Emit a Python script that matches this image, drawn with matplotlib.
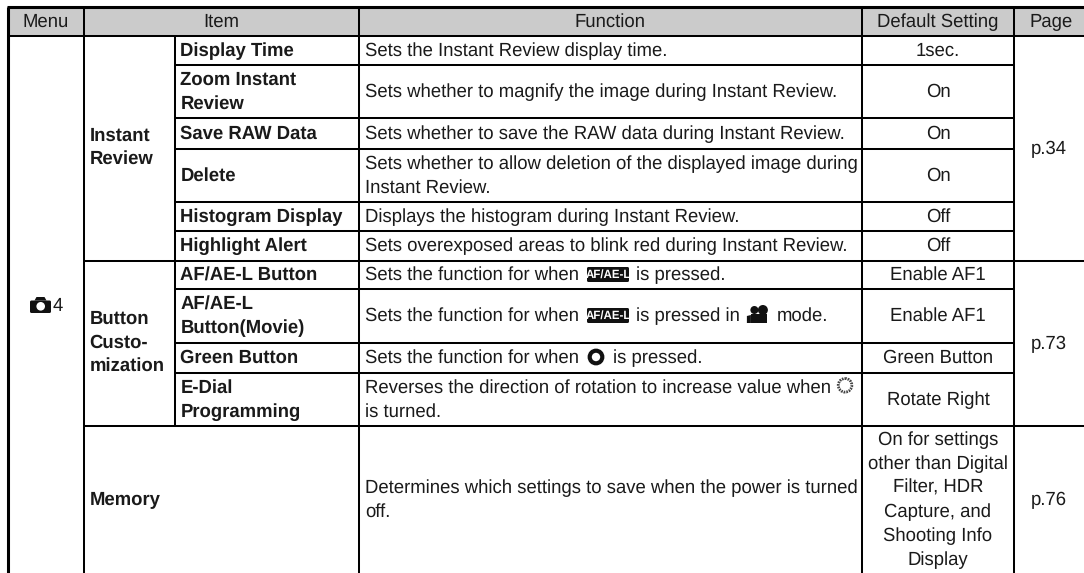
import matplotlib
matplotlib.use('Agg')
import matplotlib.pyplot as plt
from matplotlib.patches import Rectangle, Circle, FancyBboxPatch, Polygon

plt.rcParams['font.family'] = ['Liberation Sans', 'DejaVu Sans']
plt.rcParams['text.hinting'] = 'no_hinting'

W, H = 1084, 573
FS = 13.35
LEAD = 23.4
BASE = 5.3
INK = '#1a1a1a'

# table text
header = ['Menu', 'Item', 'Function', 'Default Setting', 'Page']
groups = ['Instant\nReview', 'Button\nCusto-\nmization']
items = ['Display Time', 'Zoom Instant\nReview', 'Save RAW Data', 'Delete',
         'Histogram Display', 'Highlight Alert', 'AF/AE-L Button',
         'AF/AE-L\nButton(Movie)', 'Green Button', 'E-Dial\nProgramming']
functions = ['Sets the Instant Review display time.',
             'Sets whether to magnify the image during Instant Review.',
             'Sets whether to save the RAW data during Instant Review.',
             'Sets whether to allow deletion of the displayed image during\nInstant Review.',
             'Displays the histogram during Instant Review.',
             'Sets overexposed areas to blink red during Instant Review.',
             'Sets the function for when {ael} is pressed.',
             'Sets the function for when {ael} is pressed in {movie} mode.',
             'Sets the function for when {ring} is pressed.',
             'Reverses the direction of rotation to increase value when {dial}\nis turned.']
defaults = ['1sec.', 'On', 'On', 'On', 'Off', 'Off', 'Enable AF1', 'Enable AF1',
            'Green Button', 'Rotate Right']
memory_item = 'Memory'
memory_function = 'Determines which settings to save when the power is turned\noff.'
memory_default = 'On for settings\nother than Digital\nFilter, HDR\nCapture, and\nShooting Info\nDisplay'
pages = ['p.34', 'p.73', 'p.76']
menu_number = '4'

# layout, pixels
col_x = [8, 83.5, 174.5, 359, 861.5, 1013.5, 1084]
row_y = [36, 65, 118, 149, 202, 231, 261, 289, 343, 373, 426, 573]
top_y = 7

fig = plt.figure(figsize=(W / 100, H / 100), dpi=100)
ax = fig.add_axes([0, 0, 1, 1])
ax.set_xlim(0, W)
ax.set_ylim(H, 0)
ax.axis('off')
renderer = fig.canvas.get_renderer()


def hline(y, x0, x1, lw=1.45):
    ax.plot([x0, x1], [y, y], color='black', lw=lw, solid_capstyle='butt', zorder=3)


def vline(x, y0, y1, lw=1.45):
    ax.plot([x, x], [y0, y1], color='black', lw=lw, solid_capstyle='butt', zorder=3)


def put_lines(x, yc, text, ha='left', bold=False, lead=LEAD):
    lines = text.split('\n')
    y = yc - lead * (len(lines) - 1) / 2
    for line in lines:
        ax.text(x, y + BASE, line, ha=ha, va='baseline', fontsize=FS,
                fontweight='bold' if bold else 'normal', color=INK)
        y += lead


def text_width(s):
    t = ax.text(0, 0, s, fontsize=FS)
    w = t.get_window_extent(renderer).width
    t.remove()
    return w


def draw_ael(x, y):
    ax.add_patch(FancyBboxPatch((x + 8, y - 8), 42, 15, boxstyle='round,pad=0,rounding_size=1.5',
                                fc='#111111', ec='none', zorder=4))
    ax.text(x + 29, y, 'AF/AE-L', ha='center', va='center', color='white',
            fontsize=8.3, fontweight='bold', zorder=5)
    return 57


def draw_ring(x, y):
    ax.add_patch(Circle((x + 17, y - 1), 6.3, fc='none', ec='#111111', lw=3.0, zorder=4))
    return 34


def draw_movie(x, y):
    ax.add_patch(Rectangle((x + 11, y - 2), 16, 9, fc='#111111', ec='none', zorder=4))
    ax.add_patch(Circle((x + 14.5, y - 6), 4, fc='#111111', ec='none', zorder=4))
    ax.add_patch(Circle((x + 23, y - 6), 5, fc='#111111', ec='none', zorder=4))
    ax.add_patch(Polygon([[x + 7, y + 7], [x + 7, y], [x + 11, y - 1], [x + 11, y + 7]],
                         fc='#111111', ec='none', zorder=4))
    return 37


def draw_dial(x, y):
    ax.add_patch(Circle((x + 14, y - 2.5), 6.8, fc='none', ec='#444444', lw=2.0, ls=(0, (0.6, 0.35)), zorder=4))
    return 24


icons = {'{ael}': draw_ael, '{ring}': draw_ring, '{movie}': draw_movie, '{dial}': draw_dial}


def put_function(x, y, line):
    # walk through the line, drawing text runs and icons in turn
    rest = line
    while rest:
        hits = [(rest.find(k), k) for k in icons if k in rest]
        if not hits:
            ax.text(x, y + BASE, rest, va='baseline', fontsize=FS, color=INK)
            break
        pos, key = min(hits)
        run = rest[:pos].rstrip()
        ax.text(x, y + BASE, run, va='baseline', fontsize=FS, color=INK)
        x += text_width(run + '.') - text_width('.')
        x += icons[key](x, y)
        rest = rest[pos + len(key):].lstrip()


# header band
ax.add_patch(Rectangle((col_x[0], top_y), W - col_x[0], row_y[0] - top_y, fc='#cbcbcb', ec='none', zorder=1))
hdr_cols = [(col_x[0], col_x[1]), (col_x[1], col_x[3]), (col_x[3], col_x[4]), (col_x[4], col_x[5]), (col_x[5], 1088)]
for name, (a, b) in zip(header, hdr_cols):
    ax.text((a + b) / 2, 27, name, ha='center', va='baseline', fontsize=FS, color=INK)

# grid
hline(top_y, col_x[0] - 1.5, W, lw=2.2)
hline(row_y[0], col_x[0], W)
vline(col_x[0], top_y, H, lw=2.2)
vline(col_x[1], top_y, H)
vline(col_x[3], top_y, H)
vline(col_x[4], top_y, H)
vline(col_x[5], top_y, H)
vline(col_x[2], row_y[0], row_y[10])
for i in range(1, 11):
    if i in (6, 10):
        hline(row_y[i], col_x[1], W)
    else:
        hline(row_y[i], col_x[2], col_x[5])

# rows
for i in range(10):
    yc = (row_y[i] + row_y[i + 1]) / 2
    put_lines(col_x[2] + 6, yc, items[i], bold=True)
    lines = functions[i].split('\n')
    y = yc - LEAD * (len(lines) - 1) / 2
    for line in lines:
        put_function(col_x[3] + 6, y, line)
        y += LEAD
    put_lines((col_x[4] + col_x[5]) / 2 + 0.5, yc, defaults[i], ha='center')

put_lines(col_x[1] + 6, (row_y[0] + row_y[6]) / 2 - 1.2, groups[0], bold=True)
put_lines(col_x[1] + 6, (row_y[6] + row_y[10]) / 2 - 1.2, groups[1], bold=True)

ym = (row_y[10] + row_y[11]) / 2
put_lines(col_x[1] + 6, ym, memory_item, bold=True)
put_lines(col_x[3] + 6, ym, memory_function)
put_lines((col_x[4] + col_x[5]) / 2 + 0.5, ym, memory_default, ha='center', lead=24)

page_x = 1049
put_lines(page_x, (row_y[0] + row_y[6]) / 2, pages[0], ha='center')
put_lines(page_x, (row_y[6] + row_y[10]) / 2, pages[1], ha='center')
put_lines(page_x, ym, pages[2], ha='center')

# menu cell: camera icon and number
cam_y = 306
ax.add_patch(FancyBboxPatch((30, cam_y - 5.5), 21, 12.5, boxstyle='round,pad=0,rounding_size=1.5',
                            fc='#111111', ec='none', zorder=4))
ax.add_patch(Polygon([[34.5, cam_y - 5.5], [36.5, cam_y - 9], [44.5, cam_y - 9], [46.5, cam_y - 5.5]],
                     fc='#111111', ec='none', zorder=4))
ax.add_patch(Circle((40.7, cam_y + 0.3), 4.3, fc='white', ec='none', zorder=5))
ax.text(53, cam_y + BASE, menu_number, va='baseline', fontsize=FS, color=INK)

fig.savefig('out.png', dpi=100)
